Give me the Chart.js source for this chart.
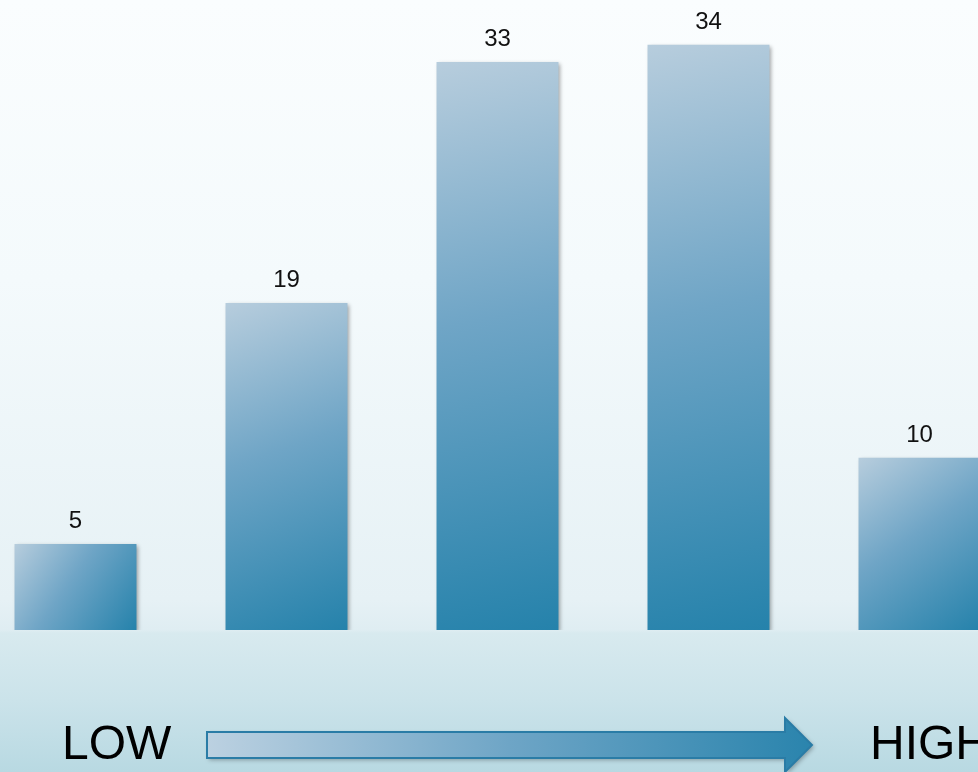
<!DOCTYPE html>
<html>
<head>
<meta charset="utf-8">
<style>
  html, body { margin: 0; padding: 0; width: 978px; height: 772px; overflow: hidden; }
  body {
    position: relative;
    background: linear-gradient(to bottom, #fafdfe 0px, #f4fafc 280px, #e6f1f5 600px, #dfedf2 630px, #d8eaef 633px, #cbe3ea 700px, #b8d9e2 772px);
  }
  #wrap { position: absolute; left: -30px; top: 0; width: 1055px; height: 772px; }
</style>
<script src="https://cdn.jsdelivr.net/npm/chart.js@4/dist/chart.umd.min.js"></script>
</head>
<body>
<div id="wrap"><canvas id="chart" width="1055" height="772"></canvas></div>
<script>
// данные
const categories = ['1', '2', '3', '4', '5'];
const values = [5, 19, 33, 34, 10];
const scaleLabels = ['LOW', 'HIGH'];

const SHIFT = 30; // холст сдвинут влево

// градиент для каждого столбика
function barFill(context) {
  const chart = context.chart;
  const { chartArea, scales } = chart;
  if (!chartArea || context.type !== 'data') return '#5f9ec3';
  const x = scales.x.getPixelForValue(context.dataIndex);
  const top = scales.y.getPixelForValue(context.raw);
  const bottom = scales.y.getPixelForValue(0);
  const g = chart.ctx.createLinearGradient(x - 61, top, x + 61, bottom);
  g.addColorStop(0, '#b7cddd');
  g.addColorStop(0.45, '#6fa5c6');
  g.addColorStop(1, '#2582ab');
  return g;
}

// тень и подписи значений
const barDecor = {
  id: 'barDecor',
  beforeDatasetsDraw(chart) {
    const ctx = chart.ctx;
    ctx.save();
    ctx.shadowColor = 'rgba(0, 0, 0, 0.35)';
    ctx.shadowBlur = 4;
    ctx.shadowOffsetX = 2;
    ctx.shadowOffsetY = 2;
  },
  afterDatasetsDraw(chart) {
    const ctx = chart.ctx;
    ctx.restore();
    const meta = chart.getDatasetMeta(0);
    ctx.save();
    ctx.fillStyle = '#111';
    ctx.font = '24px "Liberation Sans", Arial, sans-serif';
    ctx.textAlign = 'center';
    ctx.textBaseline = 'alphabetic';
    meta.data.forEach((bar, i) => {
      ctx.fillText(String(values[i]), bar.x, bar.y - 16);
    });
    ctx.restore();
  }
};

// стрелка LOW -> HIGH
const scaleArrow = {
  id: 'scaleArrow',
  afterDraw(chart) {
    const ctx = chart.ctx;
    const cy = 745;
    ctx.save();
    ctx.translate(SHIFT, 0);

    ctx.fillStyle = '#000';
    ctx.font = '48px "Liberation Sans", Arial, sans-serif';
    ctx.textBaseline = 'middle';
    ctx.textAlign = 'left';
    ctx.fillText(scaleLabels[0], 62, cy + 1);
    ctx.fillText(scaleLabels[1], 870, cy + 1);

    const x0 = 207, x1 = 785, tip = 812;
    ctx.beginPath();
    ctx.moveTo(x0, cy - 13);
    ctx.lineTo(x1, cy - 13);
    ctx.lineTo(x1, cy - 27);
    ctx.lineTo(tip, cy);
    ctx.lineTo(x1, cy + 27);
    ctx.lineTo(x1, cy + 13);
    ctx.lineTo(x0, cy + 13);
    ctx.closePath();
    const g = ctx.createLinearGradient(x0, 0, tip, 0);
    g.addColorStop(0, '#bcd1e1');
    g.addColorStop(0.5, '#6ea5c6');
    g.addColorStop(1, '#2a84ad');
    ctx.shadowColor = 'rgba(0, 0, 0, 0.3)';
    ctx.shadowBlur = 4;
    ctx.shadowOffsetX = 2;
    ctx.shadowOffsetY = 2;
    ctx.fillStyle = g;
    ctx.fill();
    ctx.shadowColor = 'transparent';
    ctx.strokeStyle = '#2a7ca6';
    ctx.lineWidth = 2;
    ctx.stroke();
    ctx.restore();
  }
};

new Chart(document.getElementById('chart'), {
  type: 'bar',
  data: {
    labels: categories,
    datasets: [{
      data: values,
      backgroundColor: barFill,
      borderWidth: 0,
      categoryPercentage: 1,
      barPercentage: 0.578
    }]
  },
  options: {
    responsive: false,
    animation: false,
    layout: { padding: { top: 0, bottom: 142, left: 0, right: 0 } },
    plugins: {
      legend: { display: false },
      tooltip: { enabled: false }
    },
    scales: {
      x: { display: false },
      y: { display: false, min: 0, max: 36.6 }
    }
  },
  plugins: [barDecor, scaleArrow]
});
</script>
</body>
</html>
